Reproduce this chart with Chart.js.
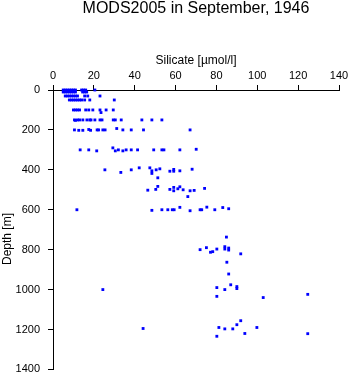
<!DOCTYPE html>
<html>
<head>
<meta charset="utf-8">
<script src="https://cdn.jsdelivr.net/npm/chart.js@4"></script>
<style>
  html, body { margin: 0; padding: 0; background: #fff; }
  canvas { display: block; }
</style>
</head>
<body>
<canvas id="profileChart" width="351" height="384"></canvas>
<script>
const chartTitle = 'MODS2005 in September, 1946';
const xAxisTitle = 'Silicate [µmol/l]';
const yAxisTitle = 'Depth [m]';
const xTicks = [0, 20, 40, 60, 80, 100, 120, 140];
const yTicks = [0, 200, 400, 600, 800, 1000, 1200, 1400];

// silicate [µmol/l] and depth [m], one entry per sample
const silicate = [
    5, 6, 7, 8, 9, 10, 11, 14, 15, 16, 20.5,
    5, 6, 7, 8, 9, 10, 11, 14.5, 15.5, 16.5,
    6, 7, 8, 9, 10, 11, 12, 15.5, 17, 23,
    8, 9, 10, 11, 12, 13, 14, 15.5, 18, 30,
    10, 11, 12, 13, 16, 17.5, 19.5, 23, 23.5, 26, 29.5,
    10.5, 11, 12, 13, 14.6, 16.6, 18, 18.6, 20.5, 23, 24, 29.5, 30.5, 33.4, 43.5, 48.4, 53.3,
    10.5, 12.6, 14.6, 17.5, 18.4, 21.6, 22.3, 24.4, 25.5, 31.2, 34.2, 38.3, 44.3, 67.1,
    13.3, 17.5, 21.4, 29.3, 30.5, 32, 34.2, 35.8, 38.3, 41.4, 49.3, 53.3, 54.3, 62.1, 70.1,
    25.4, 33.2, 38.3, 42.2, 47.4, 48.4, 48.4, 50.5, 52.3, 51.3, 57.2, 59.1, 59.1, 62.1, 68.1,
    46.4, 50.3, 51.3, 57.2, 59.1, 59.1, 61.1, 62.1, 63.7, 67.1, 69.1, 74.2, 66,
    11.7, 48.4, 53.3, 56.2, 58.4, 59.3, 62.1, 67.1, 72, 72.8, 75.3, 79.2, 83.1, 86,
    84.9, 72, 75.1, 77.1, 78.2, 80.2, 84.1, 84.1, 86, 86, 91.9, 85.1, 86,
    24.4, 87, 90, 90, 80.2, 84.1, 80.2, 102.9, 124.7,
    44.1, 81.2, 84.1, 88, 90, 91.9, 93.9, 99.8, 80.2, 124.7
];
const depth = [
    0, 0, 0, 0, 0, 0, 0, 0, 0, 0, 0,
    10, 10, 10, 10, 10, 10, 10, 10, 10, 10,
    30, 30, 30, 30, 30, 30, 30, 30, 30, 30,
    50, 50, 50, 50, 50, 50, 50, 50, 50, 50,
    100, 100, 100, 100, 100, 100, 100, 100, 113, 100, 100,
    150, 152, 150, 150, 150, 150, 150, 150, 150, 150, 150, 150, 150, 150, 150, 150, 150,
    200, 202, 202, 198, 202, 200, 200, 200, 200, 193, 200, 200, 200, 200,
    300, 300, 305, 290, 305, 300, 305, 300, 300, 300, 300, 300, 300, 300, 297,
    400, 413, 400, 390, 390, 405, 418, 400, 395, 440, 407, 398, 407, 405, 397,
    502, 498, 483, 498, 488, 505, 495, 485, 500, 505, 503, 493, 534,
    600, 603, 600, 600, 600, 600, 588, 605, 600, 600, 587, 600, 589, 595,
    737, 800, 790, 813, 810, 797, 785, 797, 792, 802, 821, 863, 922,
    1000, 976, 985, 995, 990, 1000, 1034, 1040, 1024,
    1195, 1190, 1197, 1197, 1176, 1156, 1220, 1190, 1234, 1221
];

const points = silicate.map((s, i) => ({ x: s, y: depth[i] }));
const fontFamily = '"Liberation Sans", Arial, sans-serif';
const labelFont = { family: fontFamily, size: 11 };
const titleFont = { family: fontFamily, size: 12 };

// main title centred over the plot area, depth label a bit below centre like the original
const titlePlugin = {
    id: 'plotTitles',
    afterDraw(chart) {
        const ctx = chart.ctx;
        const area = chart.chartArea;
        ctx.save();
        ctx.fillStyle = '#000';
        ctx.textAlign = 'center';
        ctx.textBaseline = 'middle';
        ctx.font = '16px ' + fontFamily;
        ctx.fillText(chartTitle, (area.left + area.right) / 2, 9);
        ctx.translate(8, 239);
        ctx.rotate(-Math.PI / 2);
        ctx.font = '12px ' + fontFamily;
        ctx.fillText(yAxisTitle, 0, 0);
        ctx.restore();
    }
};

new Chart(document.getElementById('profileChart'), {
    type: 'scatter',
    data: {
        datasets: [{
            data: points,
            backgroundColor: '#0000ff',
            borderWidth: 0,
            pointStyle: 'rect',
            pointRadius: 2,
            clip: false
        }]
    },
    options: {
        responsive: false,
        animation: false,
        devicePixelRatio: 1,
        layout: { padding: { top: 0, left: 0, right: 12, bottom: 9 } },
        plugins: {
            legend: { display: false },
            tooltip: { enabled: false },
            title: { display: false }
        },
        scales: {
            x: {
                type: 'linear',
                position: 'top',
                min: 0,
                max: 140,
                afterBuildTicks: scale => { scale.ticks = xTicks.map(v => ({ value: v })); },
                afterFit: scale => { scale.height = 90; },
                ticks: { color: '#000', font: labelFont, padding: 2, callback: v => String(v) },
                grid: { drawOnChartArea: false, drawTicks: true, tickLength: 5, color: '#000' },
                border: { display: true, color: '#000', width: 1 },
                title: { display: true, text: xAxisTitle, color: '#000', font: titleFont, padding: { top: 53, bottom: 0 } }
            },
            y: {
                type: 'linear',
                reverse: true,
                min: 0,
                max: 1400,
                afterBuildTicks: scale => { scale.ticks = yTicks.map(v => ({ value: v })); },
                afterFit: scale => { scale.width = 53; },
                ticks: { color: '#000', font: labelFont, padding: 8, callback: v => String(v) },
                grid: { drawOnChartArea: false, drawTicks: true, tickLength: 5, color: '#000' },
                border: { display: true, color: '#000', width: 1 }
            }
        }
    },
    plugins: [titlePlugin]
});
</script>
</body>
</html>
